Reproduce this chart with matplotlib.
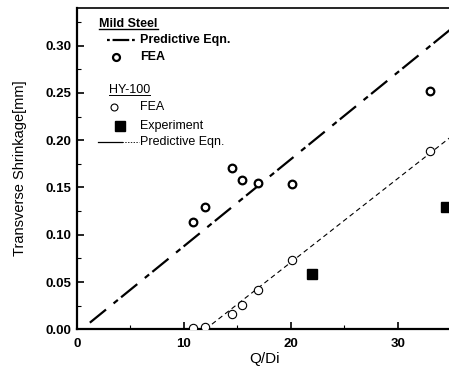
import numpy as np
import matplotlib
matplotlib.use("Agg")
import matplotlib.pyplot as plt

plt.rcParams['font.family'] = ['Liberation Sans', 'DejaVu Sans']
plt.rcParams['lines.scale_dashes'] = False

# Mild steel FEA results
ms_fea_x = [10.8, 12.0, 14.5, 15.4, 16.9, 20.1, 33.0]
ms_fea_y = [0.113, 0.129, 0.171, 0.158, 0.155, 0.154, 0.252]
# HY-100 FEA results
hy_fea_x = [10.8, 12.0, 14.5, 15.4, 16.9, 20.1, 33.0]
hy_fea_y = [0.0015, 0.002, 0.016, 0.026, 0.042, 0.073, 0.189]
# HY-100 experiment
exp_x = [22.0, 34.5]
exp_y = [0.058, 0.129]
# predictive equations (straight lines)
ms_pred_x = [1.2, 35.0]
ms_pred_y = [0.007, 0.318]
hy_pred_x = [12.0, 35.0]
hy_pred_y = [0.0, 0.204]

fig = plt.figure(figsize=(4.49, 3.67), dpi=100)
ax = fig.add_axes([0.1715, 0.1027, 0.834, 0.876])

ms_dash = (15, 7, 4, 3)
hy_dash = (3.5, 2.5)

ax.plot(ms_pred_x, ms_pred_y, color='black', lw=1.6, dashes=ms_dash)
ax.plot(hy_pred_x, hy_pred_y, color='black', lw=0.8, dashes=hy_dash)
ax.plot(ms_fea_x, ms_fea_y, 'o', ms=5.5, mew=1.6, mfc='white', mec='black', zorder=3)
ax.plot(hy_fea_x, hy_fea_y, 'o', ms=6, mew=0.8, mfc='white', mec='black', zorder=3)
ax.plot(exp_x, exp_y, 's', ms=6.5, color='black', zorder=3, clip_on=False)

ax.set_xlim(0, 35)
ax.set_ylim(0, 0.34)
ax.set_xticks([0, 10, 20, 30])
ax.set_xticks([5, 15, 25], minor=True)
ax.set_yticks(np.arange(0, 0.31, 0.05))
ax.set_yticks(np.arange(0.025, 0.34, 0.05), minor=True)
ax.yaxis.set_major_formatter(matplotlib.ticker.FormatStrFormatter('%.2f'))
ax.tick_params(which='major', direction='in', length=5, width=1.2, labelsize=9.5)
ax.tick_params(axis='x', which='major', pad=6)
ax.tick_params(axis='y', which='major', pad=4)
ax.tick_params(which='minor', direction='in', length=3, width=0.8)
for lab in ax.get_xticklabels() + ax.get_yticklabels():
    lab.set_fontweight('bold')

ax.spines['left'].set_linewidth(1.6)
ax.spines['bottom'].set_linewidth(1.6)
ax.spines['top'].set_linewidth(1.2)
ax.spines['right'].set_linewidth(0.6)
ax.spines['right'].set_color('#bbbbbb')

ax.set_xlabel('Q/Di', fontsize=11, labelpad=2)
ax.set_ylabel('Transverse Shrinkage[mm]', fontsize=10.5, labelpad=13)

# hand-made legend
T = ax.transAxes
tx = 0.168
fs = 9
h1 = ax.text(0.06, 0.950, 'Mild Steel', transform=T, fontsize=fs, fontweight='bold', va='center')
ax.plot([0.080, 0.155], [0.900, 0.900], transform=T, color='black', lw=1.6, dashes=(2, 2, 12, 2))
ax.text(tx, 0.900, 'Predictive Eqn.', transform=T, fontsize=fs, fontweight='bold', va='center')
ax.plot([0.104], [0.847], 'o', transform=T, ms=5, mew=1.6, mfc='white', mec='black')
ax.text(tx, 0.847, 'FEA', transform=T, fontsize=fs, fontweight='bold', va='center')

h2 = ax.text(0.085, 0.744, 'HY-100', transform=T, fontsize=fs, va='center')
ax.plot([0.099], [0.691], 'o', transform=T, ms=5, mew=0.8, mfc='white', mec='black')
ax.text(tx, 0.691, 'FEA', transform=T, fontsize=fs, va='center')
ax.plot([0.115], [0.632], 's', transform=T, ms=6.5, color='black')
ax.text(tx, 0.632, 'Experiment', transform=T, fontsize=fs, va='center')
ax.plot([0.056, 0.120], [0.582, 0.582], transform=T, color='black', lw=0.9)
ax.plot([0.120, 0.165], [0.582, 0.582], transform=T, color='black', lw=0.6, dashes=(1, 1))
ax.text(tx, 0.582, 'Predictive Eqn.', transform=T, fontsize=fs, va='center')

# underline the group headers
fig.canvas.draw()
r = fig.canvas.get_renderer()
for h, w in [(h1, 1.0), (h2, 0.7)]:
    bb = h.get_window_extent(r).transformed(T.inverted())
    ax.plot([bb.x0, bb.x1], [bb.y0 + 0.004, bb.y0 + 0.004], transform=T, color='black', lw=w)

fig.savefig('out.png', dpi=100)
